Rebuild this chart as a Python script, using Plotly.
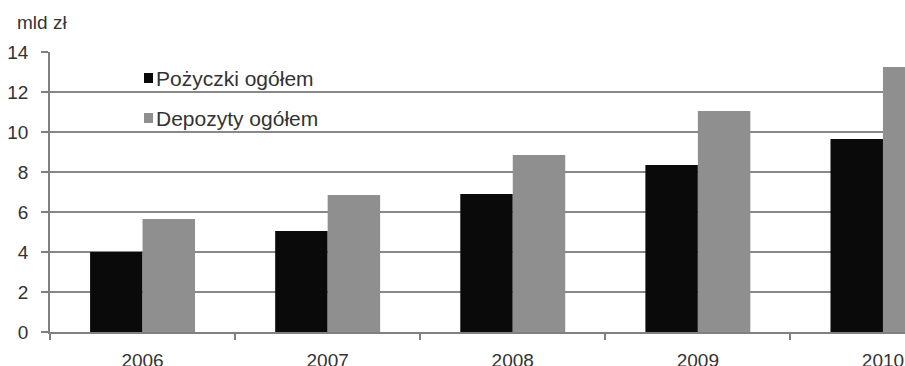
import plotly.graph_objects as go

years = ["2006", "2007", "2008", "2009", "2010"]
loans = [4.0, 5.05, 6.9, 8.35, 9.65]
deposits = [5.65, 6.85, 8.85, 11.05, 13.25]
y_ticks = [0, 2, 4, 6, 8, 10, 12, 14]
series_names = ["Pożyczki ogółem", "Depozyty ogółem"]
series_colors = ["#0a0a0a", "#8f8f8f"]

FONT = "Liberation Sans, Arial, sans-serif"
TXT = "#333333"

# plot area geometry (pixels)
L, R, T, B = 50, 0, 52, 34
W, H = 905, 366
PW, PH = W - L - R, H - T - B

def px_x(x):
    return (x - L) / PW

def px_y(y):
    return 1 - (y - T) / PH

fig = go.Figure()
for name, vals, col in zip(series_names, [loans, deposits], series_colors):
    fig.add_trace(go.Bar(x=years, y=vals, name=name, marker_color=col,
                         marker_line_width=0, showlegend=False))

# legend drawn as swatch + text inside the plot
shapes, annotations = [], []
for i, (name, col) in enumerate(zip(series_names, series_colors)):
    cy = 78 + i * 40
    shapes.append(dict(type="rect", xref="paper", yref="paper",
                       x0=px_x(144), x1=px_x(153), y0=px_y(cy + 5), y1=px_y(cy - 5),
                       fillcolor=col, line_width=0, layer="above"))
    annotations.append(dict(text=name, xref="paper", yref="paper", x=px_x(154), y=px_y(cy),
                            xanchor="left", yanchor="middle", showarrow=False,
                            font=dict(family=FONT, size=21, color=TXT)))

annotations.append(dict(text="mld zł", xref="paper", yref="paper", x=px_x(15), y=px_y(23),
                        xanchor="left", yanchor="middle", showarrow=False,
                        font=dict(family=FONT, size=19, color=TXT)))

fig.update_layout(
    width=W, height=H,
    margin=dict(l=L, r=R, t=T, b=B, autoexpand=False),
    paper_bgcolor="white", plot_bgcolor="white",
    barmode="group", bargap=0.433, bargroupgap=0,
    font=dict(family=FONT, size=19, color=TXT),
    showlegend=False,
    xaxis=dict(type="category", range=[-0.5, 4.119], tickson="boundaries",
               ticks="outside", ticklen=6, tickcolor="#808080", tickwidth=1.5,
               showline=True, linecolor="#808080", linewidth=1.5, showgrid=False,
               ticklabelstandoff=10, automargin=False,
               tickfont=dict(size=19, color=TXT)),
    yaxis=dict(range=[0, 14], tickvals=y_ticks, ticks="outside", ticklen=7,
               tickcolor="#808080", tickwidth=1.5, showline=True, linecolor="#808080",
               linewidth=1.5, showgrid=True, gridcolor="#888888", gridwidth=1.5,
               zeroline=False, ticklabelstandoff=9, automargin=False,
               tickfont=dict(size=19, color=TXT)),
    shapes=shapes,
    annotations=annotations,
)

fig.write_html("out.html")
